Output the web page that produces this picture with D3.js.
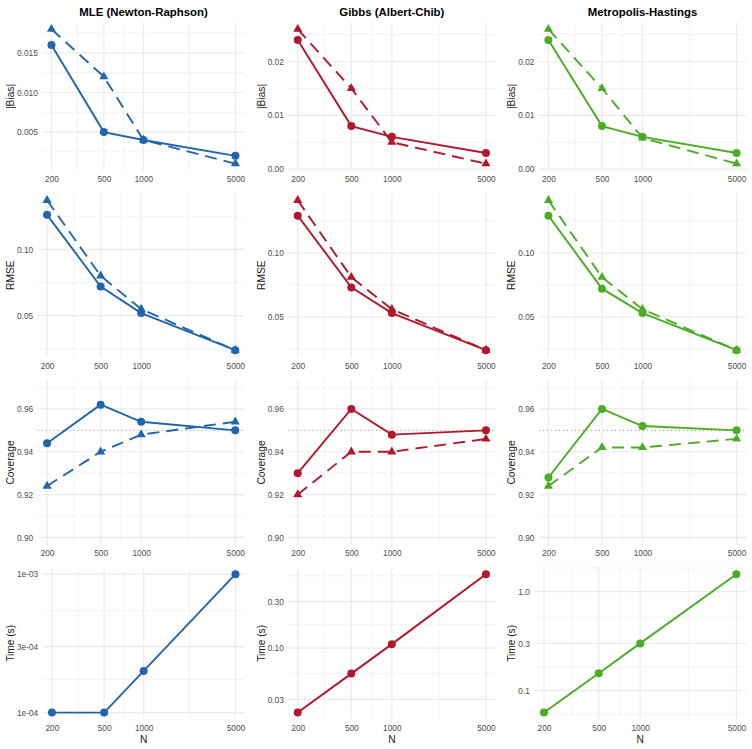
<!DOCTYPE html>
<html>
<head>
<meta charset="utf-8">
<script src="https://cdn.jsdelivr.net/npm/d3@7"></script>
<style>
  body { margin: 0; background: #fff; }
  svg { display: block; }
  text { font-family: "Liberation Sans", Arial, sans-serif; }
</style>
</head>
<body>
<svg id="chart" width="752" height="749"></svg>
<script>
const width = 752, height = 749;

const sizes = [200, 500, 1000, 5000];
const methods = ["MLE (Newton-Raphson)", "Gibbs (Albert-Chib)", "Metropolis-Hastings"];
const colors = ["#2166ac", "#b2182b", "#4dac26"];

// one row per method: solid line + circles, dashed line + triangles
const biasSolid  = [[0.016, 0.005, 0.004, 0.002], [0.024, 0.008, 0.006, 0.003], [0.024, 0.008, 0.006, 0.003]];
const biasDashed = [[0.018, 0.012, 0.004, 0.001], [0.026, 0.015, 0.005, 0.001], [0.026, 0.015, 0.0058, 0.001]];
const rmseSolid  = [[0.126, 0.072, 0.052, 0.024], [0.129, 0.073, 0.053, 0.024], [0.129, 0.072, 0.053, 0.024]];
const rmseDashed = [[0.137, 0.080, 0.055, 0.024], [0.141, 0.081, 0.056, 0.024], [0.141, 0.081, 0.056, 0.024]];
const covSolid   = [[0.944, 0.962, 0.954, 0.950], [0.930, 0.960, 0.948, 0.950], [0.928, 0.960, 0.952, 0.950]];
const covDashed  = [[0.924, 0.940, 0.948, 0.954], [0.920, 0.940, 0.940, 0.946], [0.924, 0.942, 0.942, 0.946]];
const timeSec    = [[1e-4, 1e-4, 2e-4, 1e-3], [0.022, 0.055, 0.11, 0.57], [0.06, 0.15, 0.30, 1.5]];

// y ticks
const biasTicks  = [[0.005, 0.010, 0.015], [0, 0.01, 0.02], [0, 0.01, 0.02]];
const biasLabels = [["0.005", "0.010", "0.015"], ["0.00", "0.01", "0.02"], ["0.00", "0.01", "0.02"]];
const rmseTicks  = [0.05, 0.10];
const rmseLabels = ["0.05", "0.10"];
const covTicks   = [0.90, 0.92, 0.94, 0.96];
const covLabels  = ["0.90", "0.92", "0.94", "0.96"];
const covLimits  = [0.90, 0.97];
const covTarget  = 0.95;
const timeTicks  = [[1e-4, 3e-4, 1e-3], [0.03, 0.1, 0.3], [0.1, 0.3, 1]];
const timeLabels = [["1e-04", "3e-04", "1e-03"], ["0.03", "0.10", "0.30"], ["0.1", "0.3", "1.0"]];

const rowTitles = ["|Bias|", "RMSE", "Coverage", "Time (s)"];

const svg = d3.select("#chart");
svg.append("rect").attr("width", width).attr("height", height).attr("fill", "#fff");

const gridCol = "#ebebeb";
const tickCol = "#4d4d4d";

// ggplot-ish minor breaks: midpoints between majors (in transformed units)
function minorBreaks(major, lim) {
  const b = major.slice();
  const bd = b[1] - b[0];
  if (lim[0] < b[0]) b.unshift(b[0] - bd);
  if (lim[1] > b[b.length - 1]) b.push(b[b.length - 1] + bd);
  const out = [];
  for (let i = 0; i < b.length - 1; i++) out.push((b[i] + b[i + 1]) / 2);
  return out.filter(v => v >= lim[0] && v <= lim[1]);
}

function drawPanel(r, c, cfg) {
  const colL = c * width / 3, colR = (c + 1) * width / 3;
  const rowH = height / 4, rowY = r * rowH;
  const top = rowY + 5.5 + (r === 0 ? 17 : 0);
  const bottom = rowY + rowH - (r === 3 ? 29.5 : 16.8);
  const right = colR - 6;

  const g = svg.append("g");
  const gGrid = g.append("g");
  const gAxisY = g.append("g");

  // y scale
  let y, tY;
  if (cfg.log) {
    const ext = d3.extent(cfg.series.flatMap(s => s.values)).map(Math.log10);
    const pad = 0.05 * (ext[1] - ext[0]);
    y = d3.scaleLog().domain([10 ** (ext[0] - pad), 10 ** (ext[1] + pad)]).range([bottom, top]);
    tY = Math.log10;
  } else {
    const ext = cfg.limits || d3.extent(cfg.series.flatMap(s => s.values));
    const pad = 0.05 * (ext[1] - ext[0]);
    y = d3.scaleLinear().domain([ext[0] - pad, ext[1] + pad]).range([bottom, top]);
    tY = v => v;
  }

  const yAxis = d3.axisLeft(y)
    .tickValues(cfg.ticks)
    .tickFormat((d, i) => cfg.labels[i])
    .tickSize(0)
    .tickPadding(4.5);
  gAxisY.call(yAxis);
  gAxisY.select(".domain").remove();
  gAxisY.attr("font-size", 8.3).attr("font-family", null).attr("color", tickCol);
  const maxW = d3.max(gAxisY.selectAll("text").nodes(), n => n.getComputedTextLength());
  const left = colL + 17 + maxW + 4.5;
  gAxisY.attr("transform", `translate(${left},0)`);

  // x scale (log10, 5% expansion)
  const lx = [Math.log10(sizes[0]), Math.log10(sizes[sizes.length - 1])];
  const px = 0.05 * (lx[1] - lx[0]);
  const x = d3.scaleLog().domain([10 ** (lx[0] - px), 10 ** (lx[1] + px)]).range([left, right]);

  // grid
  const yLim = y.domain().map(tY);
  const yMinor = minorBreaks(cfg.ticks.map(tY), yLim).map(v => cfg.log ? 10 ** v : v);
  const xMinor = minorBreaks(sizes.map(Math.log10), lx.map((v, i) => i ? v + px : v - px)).map(v => 10 ** v);

  gGrid.selectAll("line.ymin").data(yMinor).join("line")
    .attr("x1", left).attr("x2", right)
    .attr("y1", d => y(d)).attr("y2", d => y(d))
    .attr("stroke", gridCol).attr("stroke-width", 0.6);
  gGrid.selectAll("line.xmin").data(xMinor).join("line")
    .attr("y1", top).attr("y2", bottom)
    .attr("x1", d => x(d)).attr("x2", d => x(d))
    .attr("stroke", gridCol).attr("stroke-width", 0.6);
  gGrid.selectAll("line.ymaj").data(cfg.ticks).join("line")
    .attr("x1", left).attr("x2", right)
    .attr("y1", d => y(d)).attr("y2", d => y(d))
    .attr("stroke", gridCol).attr("stroke-width", 1.2);
  gGrid.selectAll("line.xmaj").data(sizes).join("line")
    .attr("y1", top).attr("y2", bottom)
    .attr("x1", d => x(d)).attr("x2", d => x(d))
    .attr("stroke", gridCol).attr("stroke-width", 1.2);

  // x axis
  const gAxisX = g.append("g")
    .attr("transform", `translate(0,${bottom})`)
    .call(d3.axisBottom(x).tickValues(sizes).tickFormat(d3.format("d")).tickSize(0).tickPadding(5.6));
  gAxisX.select(".domain").remove();
  gAxisX.attr("font-size", 8.3).attr("font-family", null).attr("color", tickCol);

  // reference line
  if (cfg.target != null) {
    g.append("line")
      .attr("x1", left).attr("x2", right)
      .attr("y1", y(cfg.target)).attr("y2", y(cfg.target))
      .attr("stroke", "#9a9a9a").attr("stroke-width", 1)
      .attr("stroke-dasharray", "1,3");
  }

  const line = d3.line().x((d, i) => x(sizes[i])).y(d => y(d));
  const col = colors[c];

  cfg.series.forEach(s => {
    g.append("path")
      .attr("d", line(s.values))
      .attr("fill", "none")
      .attr("stroke", col)
      .attr("stroke-width", 1.9)
      .attr("stroke-dasharray", s.dashed ? "12,7" : null);
  });
  // triangles first, circles on top
  cfg.series.slice().reverse().forEach(s => {
    if (s.dashed) {
      g.selectAll(null).data(s.values).join("path")
        .attr("d", d3.symbol(d3.symbolTriangle, 36))
        .attr("transform", (d, i) => `translate(${x(sizes[i])},${y(d)})`)
        .attr("fill", col);
    } else {
      g.selectAll(null).data(s.values).join("circle")
        .attr("cx", (d, i) => x(sizes[i]))
        .attr("cy", d => y(d))
        .attr("r", 4)
        .attr("fill", col);
    }
  });

  // y title
  const midY = (top + bottom) / 2;
  g.append("text")
    .attr("transform", `translate(${colL + 14},${midY}) rotate(-90)`)
    .attr("text-anchor", "middle")
    .attr("font-size", 10.2)
    .attr("fill", "#1a1a1a")
    .text(rowTitles[r]);

  // column title
  if (r === 0) {
    g.append("text")
      .attr("x", (left + right) / 2)
      .attr("y", 15.5)
      .attr("text-anchor", "middle")
      .attr("font-size", 11.4)
      .attr("font-weight", "bold")
      .attr("fill", "#000")
      .text(methods[c]);
  }
  // x title
  if (r === 3) {
    g.append("text")
      .attr("x", (left + right) / 2)
      .attr("y", 742.5)
      .attr("text-anchor", "middle")
      .attr("font-size", 10.2)
      .attr("fill", "#1a1a1a")
      .text("N");
  }
}

for (let c = 0; c < 3; c++) {
  drawPanel(0, c, {
    series: [{ values: biasSolid[c] }, { values: biasDashed[c], dashed: true }],
    ticks: biasTicks[c], labels: biasLabels[c]
  });
  drawPanel(1, c, {
    series: [{ values: rmseSolid[c] }, { values: rmseDashed[c], dashed: true }],
    ticks: rmseTicks, labels: rmseLabels
  });
  drawPanel(2, c, {
    series: [{ values: covSolid[c] }, { values: covDashed[c], dashed: true }],
    ticks: covTicks, labels: covLabels, limits: covLimits, target: covTarget
  });
  drawPanel(3, c, {
    series: [{ values: timeSec[c] }],
    ticks: timeTicks[c], labels: timeLabels[c], log: true
  });
}
</script>
</body>
</html>
